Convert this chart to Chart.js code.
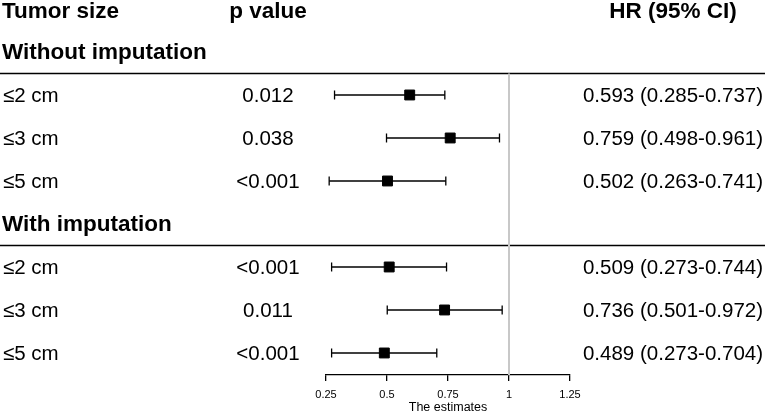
<!DOCTYPE html>
<html>
<head>
<meta charset="utf-8">
<script src="https://cdn.jsdelivr.net/npm/chart.js@4.4.1/dist/chart.umd.min.js"></script>
<style>
  html, body { margin: 0; padding: 0; background: #fff; }
  #forest { display: block; }
</style>
</head>
<body>
<canvas id="forest" width="765" height="412"></canvas>
<script>
const groups = ['Without imputation', 'With imputation'];
const groupRows = [1, 5];
const sizes = ['≤2 cm', '≤3 cm', '≤5 cm', '≤2 cm', '≤3 cm', '≤5 cm'];
const pValues = ['0.012', '0.038', '<0.001', '<0.001', '0.011', '<0.001'];
const hr = [0.593, 0.759, 0.502, 0.509, 0.736, 0.489];
const lower = [0.285, 0.498, 0.263, 0.273, 0.501, 0.273];
const upper = [0.737, 0.961, 0.741, 0.744, 0.972, 0.704];
const dataRows = [2, 3, 4, 6, 7, 8];
const xTicks = [0.25, 0.5, 0.75, 1, 1.25];
const refValue = 1;

const FONT = '"Liberation Sans", Arial, sans-serif';
const COL_LABEL = 2;
const COL_P = 268;
const COL_HR = 673;

const hrText = (i) =>
  `${hr[i].toFixed(3)} (${lower[i].toFixed(3)}-${upper[i].toFixed(3)})`;

// one small line per row for the confidence interval
const ciSets = dataRows.map((row, i) => ({
  type: 'line',
  data: [{ x: lower[i], y: row }, { x: upper[i], y: row }],
  borderColor: '#000',
  borderWidth: 1.3,
  pointStyle: 'line',
  pointRotation: 90,
  pointRadius: 4.5,
  pointBorderWidth: 1.3,
  pointBorderColor: '#000',
  order: 1
}));

const estimateSet = {
  type: 'scatter',
  data: dataRows.map((row, i) => ({ x: hr[i], y: row })),
  pointStyle: 'rect',
  pointRadius: 7,
  backgroundColor: '#000',
  borderColor: '#000',
  borderWidth: 1,
  order: 0
};

const tablePlugin = {
  id: 'table',
  beforeDatasetsDraw(chart) {
    const { ctx, chartArea, scales: { x, y } } = chart;
    ctx.save();
    // dividers under the group titles
    ctx.strokeStyle = '#000';
    ctx.lineWidth = 1.3;
    groupRows.forEach(r => {
      const py = Math.round(y.getPixelForValue(r + 0.5)) + 0.5;
      ctx.beginPath();
      ctx.moveTo(0, py);
      ctx.lineTo(chart.width, py);
      ctx.stroke();
    });
    // reference line at HR = 1
    const px = x.getPixelForValue(refValue);
    ctx.strokeStyle = '#c8c8c8';
    ctx.lineWidth = 2;
    ctx.beginPath();
    ctx.moveTo(px, y.getPixelForValue(groupRows[0] + 0.5));
    ctx.lineTo(px, chartArea.bottom);
    ctx.stroke();
    ctx.restore();
  },
  afterDraw(chart) {
    const { ctx, scales: { y } } = chart;
    ctx.save();
    ctx.fillStyle = '#000';
    ctx.textBaseline = 'middle';

    ctx.font = `bold 22.5px ${FONT}`;
    const hy = y.getPixelForValue(0) + 3;
    ctx.textAlign = 'left';
    ctx.fillText('Tumor size', COL_LABEL, hy);
    ctx.textAlign = 'center';
    ctx.fillText('p value', COL_P, hy);
    ctx.fillText('HR (95% CI)', COL_HR, hy);

    ctx.textAlign = 'left';
    groups.forEach((g, i) => {
      ctx.fillText(g, COL_LABEL, y.getPixelForValue(groupRows[i]) + 1);
    });

    ctx.font = `20.5px ${FONT}`;
    dataRows.forEach((row, i) => {
      const py = y.getPixelForValue(row) + 1;
      ctx.textAlign = 'left';
      ctx.fillText(sizes[i], COL_LABEL + 1, py);
      ctx.textAlign = 'center';
      ctx.fillText(pValues[i], COL_P, py);
      ctx.fillText(hrText(i), COL_HR, py);
    });
    ctx.restore();
  }
};

new Chart(document.getElementById('forest'), {
  data: { datasets: [estimateSet, ...ciSets] },
  options: {
    responsive: false,
    animation: false,
    events: [],
    layout: { autoPadding: false, padding: { left: 326, right: 195, top: 0, bottom: 0 } },
    plugins: { legend: { display: false }, tooltip: { enabled: false } },
    scales: {
      x: {
        type: 'linear',
        min: 0.25,
        max: 1.25,
        afterBuildTicks: (scale) => { scale.ticks = xTicks.map(v => ({ value: v })); },
        afterFit: (scale) => { scale.height = 37; },
        ticks: {
          callback: (v) => `${v}`,
          font: { family: FONT, size: 11 },
          color: '#000',
          padding: 7,
          maxRotation: 0,
          autoSkip: false
        },
        grid: {
          drawOnChartArea: false,
          drawTicks: true,
          tickLength: 6,
          color: '#000',
          lineWidth: 1.3
        },
        border: { display: true, color: '#000', width: 1.3 },
        title: {
          display: true,
          text: 'The estimates',
          font: { family: FONT, size: 12.5 },
          color: '#000',
          padding: { top: 0, bottom: -3 }
        }
      },
      y: {
        type: 'linear',
        display: false,
        reverse: true,
        min: -0.209,
        max: 8.512
      }
    }
  },
  plugins: [tablePlugin]
});
</script>
</body>
</html>
